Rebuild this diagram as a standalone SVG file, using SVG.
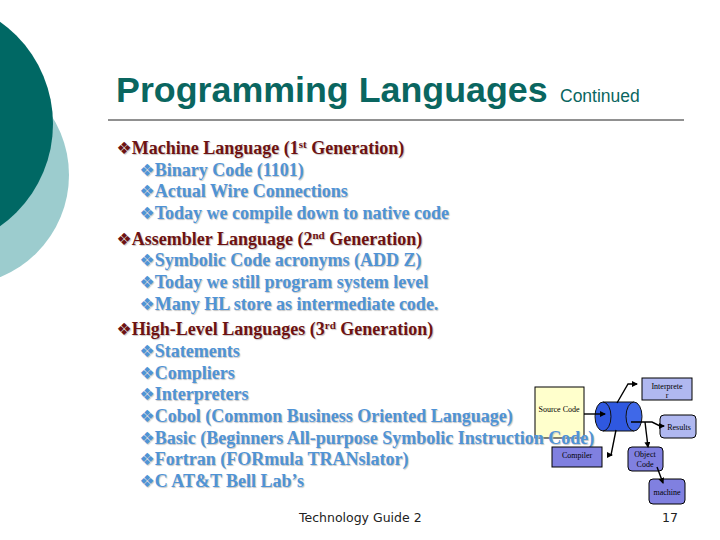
<svg xmlns="http://www.w3.org/2000/svg" width="720" height="540" viewBox="0 0 720 540">
<style>
.b{font-family:"Liberation Serif","Times New Roman",serif;font-weight:bold;font-size:18px;text-shadow:1px 1px 1px #c4c4c4}
.m{fill:#6e1212}.s{fill:#4f93d6}
.d{font-family:"DejaVu Sans",sans-serif;font-size:17px;font-weight:normal}
.n{font-family:"Liberation Serif",serif;font-size:8px;fill:#000;text-anchor:middle}
.f{font-family:"DejaVu Sans",sans-serif;font-size:12.5px;fill:#222}
.c{fill:none;stroke:#000;stroke-width:1.4;marker-end:url(#a)}
</style>
<defs><marker id="a" markerUnits="userSpaceOnUse" markerWidth="7" markerHeight="7" refX="5" refY="3" orient="auto"><path d="M0 0L6 3L0 6z" fill="#000"/></marker></defs>
<circle cx="-41" cy="175" r="110" fill="#9cccce"/>
<circle cx="-72" cy="124" r="125" fill="#006864"/>
<text x="116" y="102" font-family="Liberation Sans,sans-serif" font-weight="bold" font-size="35.800px" fill="#0a6660">Programming Languages</text>
<text x="560" y="102" font-family="Liberation Sans,sans-serif" font-size="17.500px" fill="#0a6660">Continued</text>
<line x1="108" y1="120" x2="684" y2="120" stroke="#222" stroke-width="1"/>
<g id="source"><rect x="535" y="387" width="49" height="51" fill="#ffffcc" stroke="#000"/><text x="559" y="412" class="n">Source Code</text></g>
<g class="b" transform="translate(0 0.500)">
<text x="116.500" y="153" class="m"><tspan class="d">❖</tspan>Machine Language (1<tspan dy="-6" font-size="11px">st</tspan><tspan dy="6"> Generation)</tspan></text>
<text x="139.500" y="175" class="s"><tspan class="d">❖</tspan>Binary Code (1101)</text>
<text x="139.500" y="196" class="s"><tspan class="d">❖</tspan>Actual Wire Connections</text>
<text x="139.500" y="218" class="s"><tspan class="d">❖</tspan>Today we compile down to native code</text>
<text x="116.500" y="244" class="m"><tspan class="d">❖</tspan>Assembler Language (2<tspan dy="-6" font-size="11px">nd</tspan><tspan dy="6"> Generation)</tspan></text>
<text x="139.500" y="265" class="s"><tspan class="d">❖</tspan>Symbolic Code acronyms (ADD Z)</text>
<text x="139.500" y="287" class="s"><tspan class="d">❖</tspan>Today we still program system level</text>
<text x="139.500" y="309" class="s"><tspan class="d">❖</tspan>Many HL store as intermediate code.</text>
<text x="116.500" y="334" class="m"><tspan class="d">❖</tspan>High-Level Languages (3<tspan dy="-6" font-size="11px">rd</tspan><tspan dy="6"> Generation)</tspan></text>
<text x="139.500" y="356" class="s"><tspan class="d">❖</tspan>Statements</text>
<text x="139.500" y="378" class="s"><tspan class="d">❖</tspan>Compliers</text>
<text x="139.500" y="399" class="s"><tspan class="d">❖</tspan>Interpreters</text>
<text x="139.500" y="421" class="s"><tspan class="d">❖</tspan>Cobol (Common Business Oriented Language)</text>
<text x="139.500" y="443" class="s"><tspan class="d">❖</tspan>Basic (Beginners All-purpose Symbolic Instruction Code)</text>
<text x="139.500" y="464" class="s"><tspan class="d">❖</tspan>Fortran (FORmula TRANslator)</text>
<text x="139.500" y="486" class="s"><tspan class="d">❖</tspan>C AT&amp;T Bell Lab’s</text>
</g>
<text x="299" y="522" class="f">Technology Guide 2</text>
<text x="662" y="522" class="f">17</text>
<g id="cylinder"><rect x="603" y="402" width="31" height="29" fill="#2f58e0"/><ellipse cx="603" cy="416.500" rx="8" ry="14.500" fill="#2f58e0" stroke="#111"/><path d="M603 402H634M603 431H634" stroke="#111"/><ellipse cx="634" cy="416.500" rx="8" ry="14.500" fill="#3f68e8" stroke="#111"/></g>
<g id="interpreter"><rect x="642" y="378" width="50" height="22" fill="#b0b8f0" stroke="#000"/><text x="667" y="389" class="n">Interprete</text><text x="667" y="398" class="n">r</text></g>
<g id="results"><rect x="660" y="415" width="36" height="23" rx="4" fill="#b0b8f0" stroke="#000"/><text x="679" y="430" class="n">Results</text></g>
<g id="compiler"><rect x="552" y="447" width="50" height="20" fill="#8080e0" stroke="#000"/><text x="577" y="458" class="n">Compiler</text></g>
<g id="object"><rect x="628" y="447" width="35" height="24" rx="4" fill="#8080e0" stroke="#000"/><text x="645" y="457" class="n">Object</text><text x="645" y="467" class="n">Code</text></g>
<g id="machine"><rect x="649" y="479" width="36" height="25" rx="4" fill="#8080e0" stroke="#000"/><text x="667" y="495" class="n">machine</text></g>
<g id="connectors">
<path class="c" d="M584 414H605"/>
<path class="c" d="M617 403L628 384H637"/>
<path class="c" d="M631 422H652L660 426H664"/>
<path class="c" d="M645 422L648 447"/>
<path class="c" d="M616 430L611 455H612"/>
<path class="c" d="M657 467L663 483"/>
</g>
</svg>
